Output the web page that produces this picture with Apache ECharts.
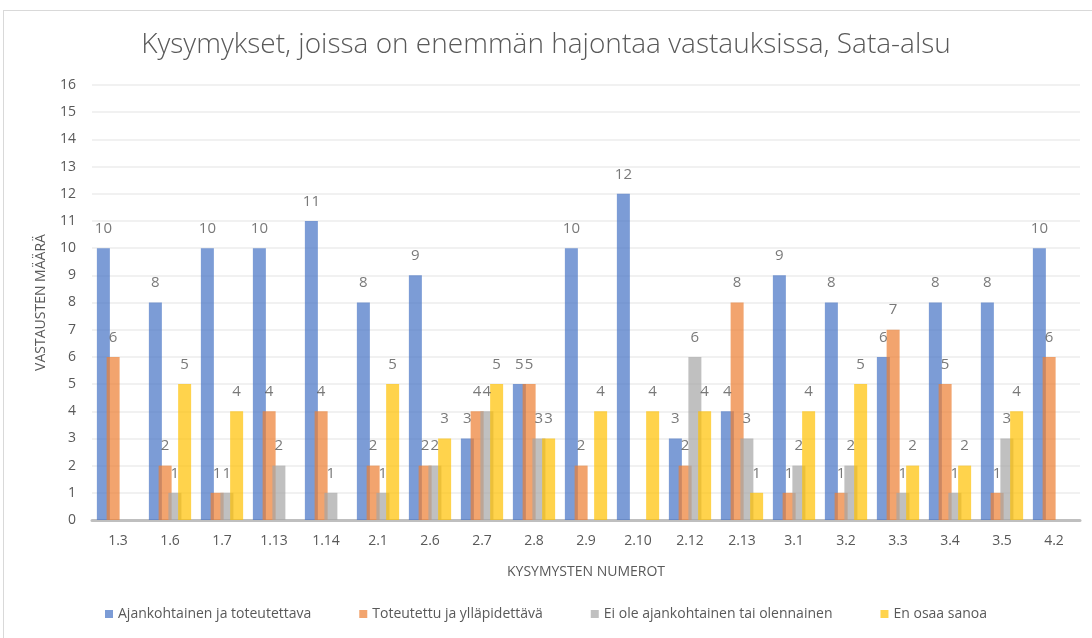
<!DOCTYPE html>
<html>
<head>
<meta charset="utf-8">
<script src="https://cdn.jsdelivr.net/npm/echarts@6/dist/echarts.min.js"></script>
<style>
  html, body { margin: 0; padding: 0; background: #fff; }
  #frame {
    position: absolute; left: 3px; top: 10px; width: 1100px; height: 640px;
    border: 1px solid #d9d9d9; box-sizing: border-box;
  }
  #chart { position: absolute; left: 0; top: 0; width: 1092px; height: 638px; }
</style>
</head>
<body>
<div id="frame"></div>
<div id="chart"></div>
<script>
const categories = ['1.3', '1.6', '1.7', '1.13', '1.14', '2.1', '2.6', '2.7', '2.8', '2.9',
  '2.10', '2.12', '2.13', '3.1', '3.2', '3.3', '3.4', '3.5', '4.2']

const seriesNames = [
  'Ajankohtainen ja toteutettava',
  'Toteutettu ja ylläpidettävä',
  'Ei ole ajankohtainen tai olennainen',
  'En osaa sanoa'
]

// null = no answers (no label in the original)
const ajankohtainen = [10, 8, 10, 10, 11, 8, 9, 3, 5, 10, 12, 3, 4, 9, 8, 6, 8, 8, 10]
const toteutettu = [6, 2, 1, 4, 4, 2, 2, 4, 5, 2, null, 2, 8, 1, 1, 7, 5, 1, 6]
const eiOle = [null, 1, 1, 2, 1, 1, 2, 4, 3, null, null, 6, 3, 2, 2, 1, 1, 3, null]
const enOsaa = [null, 5, 4, null, null, 5, 3, 5, 3, 4, 4, 4, 1, 4, 5, 2, 2, 4, null]

const colors = ['#4472C4', '#ED7D31', '#A5A5A5', '#FFC000']
const values = [ajankohtainen, toteutettu, eiOle, enOsaa]

const chart = echarts.init(document.getElementById('chart'))

const makeSeries = (name, data, i) => ({
  name: name,
  type: 'bar',
  data: data,
  barWidth: 13,
  barGap: '-25%',
  itemStyle: { color: colors[i], opacity: 0.7 },
  label: {
    show: true,
    position: 'top',
    distance: 12,
    color: '#404040',
    fontSize: 15,
    fontFamily: 'Open Sans'
  },
  emphasis: { disabled: true }
})

const option = {
  animation: false,
  color: colors,
  title: {
    text: 'Kysymykset, joissa on enemmän hajontaa vastauksissa, Sata-alsu',
    left: 'center',
    top: 26,
    textStyle: {
      fontFamily: 'Open Sans',
      fontWeight: 300,
      fontSize: 28,
      color: '#595959'
    }
  },
  legend: {
    data: seriesNames,
    bottom: 12,
    left: 'center',
    itemWidth: 8,
    itemHeight: 8,
    itemGap: 48,
    icon: 'rect',
    textStyle: { fontFamily: 'Open Sans', fontSize: 14, color: '#595959' }
  },
  grid: {
    left: 92,
    right: 12,
    top: 85,
    bottom: 118
  },
  xAxis: {
    type: 'category',
    data: categories,
    name: 'KYSYMYSTEN NUMEROT',
    nameLocation: 'middle',
    nameGap: 45,
    nameTextStyle: { fontFamily: 'Open Sans', fontSize: 14, color: '#595959' },
    axisLine: { lineStyle: { color: '#BFBFBF', width: 3 } },
    axisTick: { show: false },
    axisLabel: { fontFamily: 'Open Sans', fontSize: 14, color: '#595959', margin: 14 }
  },
  yAxis: {
    type: 'value',
    min: 0,
    max: 16,
    interval: 1,
    name: 'VASTAUSTEN MÄÄRÄ',
    nameLocation: 'middle',
    nameGap: 44,
    nameTextStyle: { fontFamily: 'Open Sans', fontSize: 14, color: '#595959' },
    axisLine: { show: false },
    axisTick: { show: false },
    axisLabel: { fontFamily: 'Open Sans', fontSize: 14, color: '#595959', margin: 16 },
    splitLine: { lineStyle: { color: '#EDEDED', width: 1.5 } }
  },
  series: seriesNames.map((n, i) => makeSeries(n, values[i], i))
}

chart.setOption(option)
</script>
</body>
</html>
